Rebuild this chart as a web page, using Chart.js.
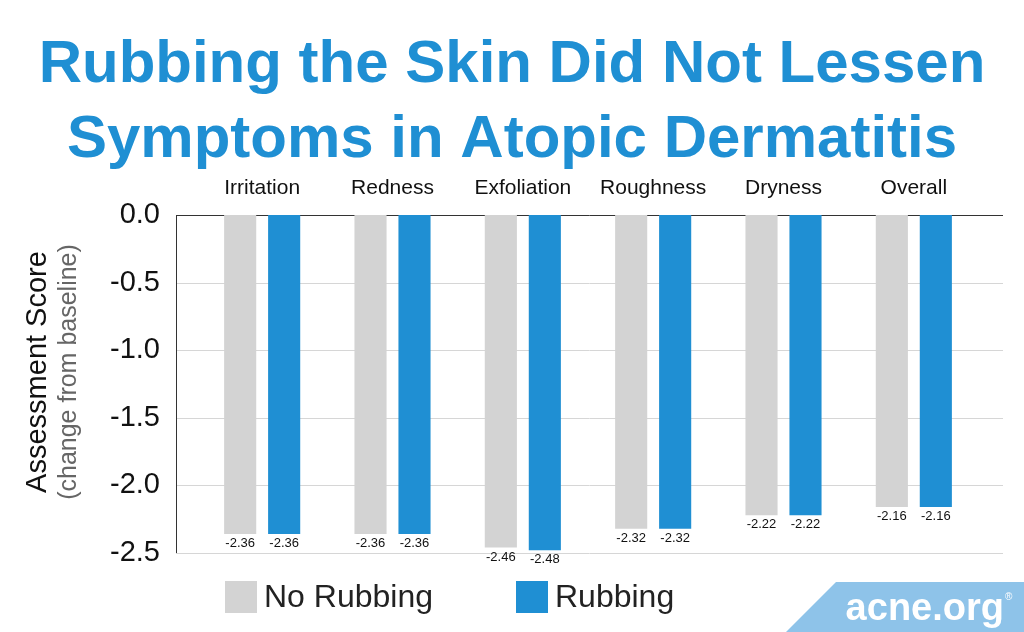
<!DOCTYPE html>
<html>
<head>
<meta charset="utf-8">
<script src="https://cdn.jsdelivr.net/npm/chart.js@4"></script>
<style>
  html, body { margin: 0; padding: 0; background: #fff; }
  #wrap { width: 1024px; height: 632px; }
</style>
</head>
<body>
<div id="wrap"><canvas id="chart"></canvas></div>
<script>
const categories = ['Irritation', 'Redness', 'Exfoliation', 'Roughness', 'Dryness', 'Overall'];
const noRubbing = [-2.36, -2.36, -2.46, -2.32, -2.22, -2.16];
const rubbing = [-2.36, -2.36, -2.48, -2.32, -2.22, -2.16];
const titleLines = ['Rubbing the Skin Did Not Lessen', 'Symptoms in Atopic Dermatitis'];

const BLUE = '#1f8fd3';
const GREY = '#d3d3d3';
const FONT = '"Liberation Sans", Arial, sans-serif';
const AXIS_LEFT = 176;
const AXIS_RIGHT = 1003;

const decorPlugin = {
    id: 'decor',
    beforeDatasetsDraw(chart) {
        const ctx = chart.ctx;
        const y = chart.scales.y;
        ctx.save();
        // grid lines across the full axis width
        ctx.strokeStyle = '#d6d6d6';
        ctx.lineWidth = 1;
        y.ticks.forEach(t => {
            const py = Math.round(y.getPixelForValue(t.value)) + 0.5;
            ctx.beginPath();
            ctx.moveTo(AXIS_LEFT, py);
            ctx.lineTo(AXIS_RIGHT, py);
            ctx.stroke();
        });
        // axis lines
        ctx.strokeStyle = '#333';
        const top = Math.round(y.getPixelForValue(0)) + 0.5;
        ctx.beginPath();
        ctx.moveTo(AXIS_LEFT, top);
        ctx.lineTo(AXIS_RIGHT, top);
        ctx.moveTo(AXIS_LEFT + 0.5, top);
        ctx.lineTo(AXIS_LEFT + 0.5, y.getPixelForValue(-2.5));
        ctx.stroke();
        ctx.restore();
    },
    afterDatasetsDraw(chart) {
        const ctx = chart.ctx;
        ctx.save();
        ctx.fillStyle = '#111';
        ctx.font = '13px ' + FONT;
        ctx.textAlign = 'center';
        ctx.textBaseline = 'top';
        chart.data.datasets.forEach((ds, i) => {
            chart.getDatasetMeta(i).data.forEach((bar, j) => {
                ctx.fillText(ds.data[j].toFixed(2), bar.x, bar.y + 3);
            });
        });
        ctx.restore();
    },
    afterDraw(chart) {
        const ctx = chart.ctx;
        ctx.save();
        // title
        ctx.fillStyle = BLUE;
        ctx.font = 'bold 60px ' + FONT;
        ctx.textAlign = 'center';
        ctx.textBaseline = 'alphabetic';
        ctx.fillText(titleLines[0], 512, 82);
        ctx.fillText(titleLines[1], 512, 157);

        // y axis title
        ctx.translate(46, 372);
        ctx.rotate(-Math.PI / 2);
        ctx.fillStyle = '#111';
        ctx.font = '29px ' + FONT;
        ctx.fillText('Assessment Score', 0, 0);
        ctx.fillStyle = '#666';
        ctx.font = '25px ' + FONT;
        ctx.fillText('(change from baseline)', 0, 30);
        ctx.setTransform(1, 0, 0, 1, 0, 0);
        ctx.scale(chart.currentDevicePixelRatio, chart.currentDevicePixelRatio);

        // legend
        ctx.textAlign = 'left';
        ctx.textBaseline = 'middle';
        ctx.font = '32px ' + FONT;
        const items = [[chart.data.datasets[0], 225], [chart.data.datasets[1], 516]];
        items.forEach(([ds, x]) => {
            ctx.fillStyle = ds.backgroundColor;
            ctx.fillRect(x, 581, 32, 32);
            ctx.fillStyle = '#222';
            ctx.fillText(ds.label, x + 39, 598);
        });

        // logo
        ctx.fillStyle = '#8ec3e9';
        ctx.beginPath();
        ctx.moveTo(836, 582);
        ctx.lineTo(1024, 582);
        ctx.lineTo(1024, 632);
        ctx.lineTo(786, 632);
        ctx.closePath();
        ctx.fill();
        ctx.fillStyle = '#fff';
        ctx.font = 'bold 38px ' + FONT;
        ctx.textAlign = 'right';
        ctx.textBaseline = 'alphabetic';
        ctx.fillText('acne.org', 1004, 620);
        ctx.font = '10px ' + FONT;
        ctx.textAlign = 'left';
        ctx.fillText('®', 1005, 600);
        ctx.restore();
    }
};

new Chart(document.getElementById('chart'), {
    type: 'bar',
    data: {
        labels: categories,
        datasets: [
            { label: 'No Rubbing', data: noRubbing, backgroundColor: GREY },
            { label: 'Rubbing', data: rubbing, backgroundColor: BLUE }
        ]
    },
    options: {
        responsive: true,
        maintainAspectRatio: false,
        animation: false,
        categoryPercentage: 0.675,
        barPercentage: 0.73,
        layout: { padding: { top: 178, left: 0, right: 45, bottom: 79 } },
        plugins: {
            legend: { display: false },
            title: { display: false },
            tooltip: { enabled: false }
        },
        scales: {
            x: {
                position: 'top',
                afterFit(scale) { scale.height = 37; },
                grid: { display: false },
                border: { display: false },
                ticks: { color: '#111', font: { size: 21, family: FONT }, padding: 6 }
            },
            y: {
                min: -2.5,
                max: 0,
                afterFit(scale) { scale.width = 197; },
                ticks: {
                    stepSize: 0.5,
                    padding: 29,
                    color: '#111',
                    font: { size: 29, family: FONT },
                    callback: v => v.toFixed(1)
                },
                grid: { display: false },
                border: { display: false }
            }
        }
    },
    plugins: [decorPlugin]
});
</script>
</body>
</html>
